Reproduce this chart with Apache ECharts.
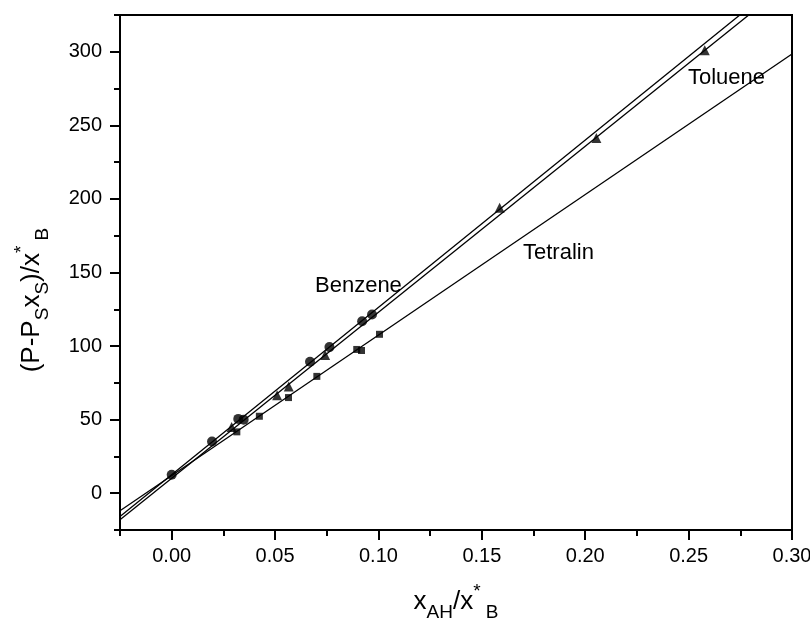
<!DOCTYPE html>
<html><head><meta charset="utf-8">
<script src="https://cdn.jsdelivr.net/npm/echarts@6/dist/echarts.min.js"></script>
<style>html,body{margin:0;padding:0;background:#fff}#c{width:810px;height:623px}</style>
</head><body><div id="c"></div>
<script>
// Data
const benzeneX = [0.000, 0.0195, 0.0322, 0.0348, 0.0669, 0.0763, 0.0921, 0.0969];
const benzeneY = [12.5, 35.1, 50.5, 50.0, 89.4, 99.3, 116.9, 121.4];
const tolueneX = [0.029, 0.051, 0.0566, 0.0742, 0.1586, 0.2054, 0.2578];
const tolueneY = [45.0, 66.5, 72.5, 94.0, 194.0, 241.4, 301.0];
const tetralinX = [0.0315, 0.0424, 0.0565, 0.0702, 0.0895, 0.0918, 0.1005];
const tetralinY = [41.7, 52.3, 65.0, 79.4, 97.7, 97.0, 108.0];
// linear fits: [intercept, slope]
const benzeneFit = [12.6, 1137];
const tolueneFit = [10.2, 1128];
const tetralinFit = [12.0, 955];
const xTicks = [0.00, 0.05, 0.10, 0.15, 0.20, 0.25, 0.30];
const yTicks = [0, 50, 100, 150, 200, 250, 300];
const xMin = -0.025, xMax = 0.30, yMin = -25, yMax = 325;

const FONT = 'Liberation Sans';
const pts = (xs, ys) => xs.map((x, i) => [x, ys[i]]);
const fitLine = f => [[xMin, f[0] + f[1] * xMin], [xMax, f[0] + f[1] * xMax]];

const chart = echarts.init(document.getElementById('c'));
const lineStyle = {color: '#000', width: 1.3};
const markerSeries = (name, data, symbol, size) => ({
  name, type: 'scatter', data, symbol, symbolSize: size,
  itemStyle: {color: '#000'}, z: 5
});
const lineSeries = (data) => ({
  type: 'line', data, showSymbol: false, symbol: 'none', lineStyle, clip: true, z: 3
});
const richName = {
  n: {fontSize: 26, fontFamily: FONT, color: '#000', lineHeight: 40, verticalAlign: 'middle'},
  sub: {fontSize: 19, fontFamily: FONT, color: '#000', lineHeight: 40, verticalAlign: 'bottom'},
  sup: {fontSize: 19, fontFamily: FONT, color: '#000', lineHeight: 40, verticalAlign: 'top'}
};
chart.setOption({
  animation: false,
  backgroundColor: '#fff',
  grid: {left: 120, top: 15, right: 18, bottom: 93, show: true, borderColor: '#000', borderWidth: 2,
         backgroundColor: 'transparent', containLabel: false, outerBoundsMode: 'none'},
  xAxis: [{
    type: 'value', min: xMin, max: xMax, interval: 0.025,
    axisLine: {onZero: false, lineStyle: {color: '#000', width: 2}},
    axisTick: {show: true, length: 6, lineStyle: {color: '#000', width: 2}},
    splitLine: {show: false},
    axisLabel: {show: true, customValues: xTicks, formatter: v => v.toFixed(2), fontSize: 20, fontFamily: FONT, color: '#000', margin: 16},
    name: '{n|x}{sub|AH}{n|/x}{sup|*}{sub| B}', nameLocation: 'middle', nameGap: 52,
    nameTextStyle: {rich: richName}
  }, {
    type: 'value', min: xMin, max: xMax, position: 'bottom', gridIndex: 0,
    axisLine: {show: false, onZero: false},
    axisTick: {show: true, length: 10, customValues: xTicks, lineStyle: {color: '#000', width: 2}},
    axisLabel: {show: false}, splitLine: {show: false}
  }],
  yAxis: [{
    type: 'value', min: yMin, max: yMax, interval: 25,
    axisLine: {show: true, onZero: false, lineStyle: {color: '#000', width: 2}},
    axisTick: {show: true, length: 6, lineStyle: {color: '#000', width: 2}},
    splitLine: {show: false},
    axisLabel: {show: true, customValues: yTicks, fontSize: 20, fontFamily: FONT, color: '#000', margin: 18}
  }, {
    type: 'value', min: yMin, max: yMax, position: 'left', gridIndex: 0,
    axisLine: {show: false, onZero: false},
    axisTick: {show: true, length: 10, customValues: yTicks, lineStyle: {color: '#000', width: 2}},
    axisLabel: {show: false}, splitLine: {show: false}
  }],
  series: [
    lineSeries(fitLine(benzeneFit)),
    lineSeries(fitLine(tolueneFit)),
    lineSeries(fitLine(tetralinFit)),
    markerSeries('Benzene', pts(benzeneX, benzeneY), 'circle', 10),
    markerSeries('Toluene', pts(tolueneX, tolueneY), 'triangle', 10),
    markerSeries('Tetralin', pts(tetralinX, tetralinY), 'rect', 7)
  ],
  graphic: [
    {type: 'text', left: 315, top: 275, style: {text: 'Benzene', font: '22px "Liberation Sans"', fill: '#000'}},
    {type: 'text', left: 523, top: 242, style: {text: 'Tetralin', font: '22px "Liberation Sans"', fill: '#000'}},
    {type: 'text', left: 688, top: 67, style: {text: 'Toluene', font: '22px "Liberation Sans"', fill: '#000'}},
    {type: 'text', x: 32, y: 300, rotation: Math.PI / 2,
     style: {text: '{n|(P-P}{sub|S}{n|x}{sub|S}{n|)/x}{sup|*}{sub| B}', rich: richName, align: 'center', verticalAlign: 'middle'}}
  ]
});
</script></body></html>
